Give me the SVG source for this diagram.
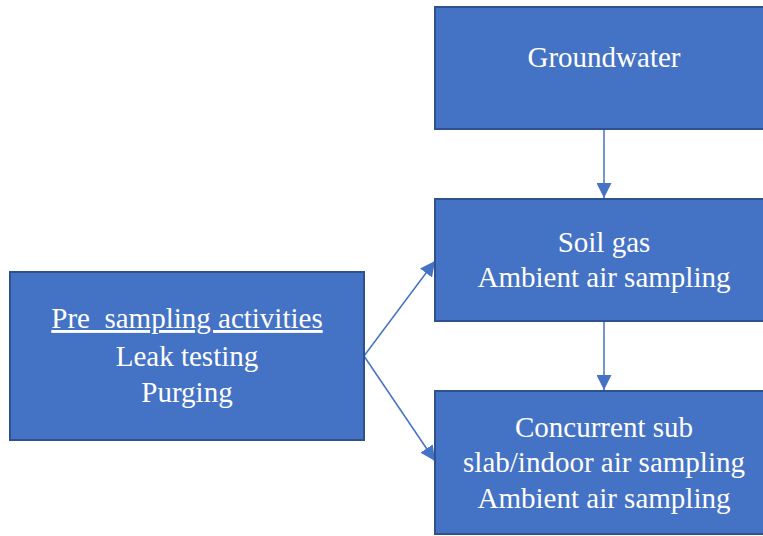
<svg xmlns="http://www.w3.org/2000/svg" width="763" height="536" viewBox="0 0 763 536">
<style>
.box{fill:#4472C4;stroke:#2F528F;stroke-width:2}
.t{font-family:"Liberation Serif","Times New Roman",serif;font-size:29px;fill:#FFFFFF;text-anchor:middle}
.c{stroke:#4472C4;stroke-width:1.5;fill:none}
</style>
<defs>
<marker id="ah" viewBox="0 0 10 10" refX="10" refY="5" markerWidth="9" markerHeight="9" markerUnits="userSpaceOnUse" orient="auto">
<path d="M0,0 L10,5 L0,10 Z" fill="#4472C4"/>
</marker>
<marker id="ah2" viewBox="0 0 10 10" refX="10" refY="5" markerWidth="10" markerHeight="10" markerUnits="strokeWidth" orient="auto">
<path d="M0,0 L10,5 L0,10 Z" fill="#4472C4"/>
</marker>
</defs>
<rect width="763" height="536" fill="#FFFFFF"/>
<g id="connectors">
<line class="c" x1="604" y1="129" x2="604" y2="198" marker-end="url(#ah2)"/>
<line class="c" x1="604" y1="321" x2="604" y2="390" marker-end="url(#ah2)"/>
<line class="c" x1="364" y1="356" x2="435" y2="261" marker-end="url(#ah2)"/>
<line class="c" x1="364" y1="356" x2="435" y2="461" marker-end="url(#ah2)"/>
</g>
<g id="groundwater">
<rect class="box" x="435" y="7" width="340" height="122"/>
<text class="t" x="604" y="67">Groundwater</text>
</g>
<g id="soilgas">
<rect class="box" x="435" y="199" width="340" height="122"/>
<text class="t" x="604" y="252">Soil gas</text>
<text class="t" x="604" y="287">Ambient air sampling</text>
</g>
<g id="concurrent">
<rect class="box" x="435" y="391" width="340" height="143"/>
<text class="t" x="604" y="437">Concurrent sub</text>
<text class="t" x="604" y="472">slab/indoor air sampling</text>
<text class="t" x="604" y="508">Ambient air sampling</text>
</g>
<g id="presampling">
<rect class="box" x="10" y="272" width="354" height="168"/>
<text class="t" x="187" y="328" text-decoration="underline" xml:space="preserve" style="white-space:pre">Pre  sampling activities</text>
<text class="t" x="187" y="366">Leak testing</text>
<text class="t" x="187" y="402">Purging</text>
</g>
</svg>
